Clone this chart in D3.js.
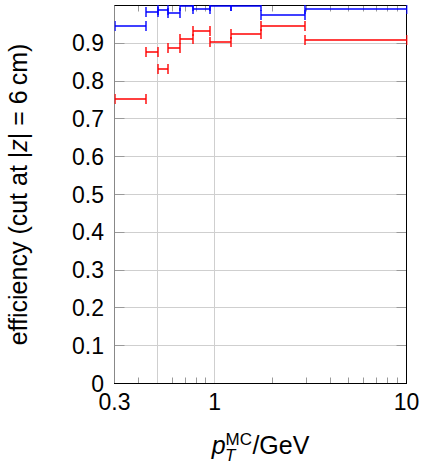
<!DOCTYPE html>
<html>
<head>
<meta charset="utf-8">
<script src="https://cdn.jsdelivr.net/npm/d3@7"></script>
<style>
  body { margin: 0; background: #fff; }
  text { font-family: "Liberation Sans", Arial, sans-serif; fill: #000; }
</style>
</head>
<body>
<svg id="chart" width="421" height="464"></svg>
<script>
// efficiency vs pT, two series drawn as horizontal bin errorbars

var binEdges = [0.3, 0.44, 0.503, 0.57, 0.655, 0.77, 0.94, 1.21, 1.75, 2.96, 10];
var blueEff = [0.946, 0.983, 0.988, 0.981, 1.0, 0.99, 1.0, 1.0, 0.974, 0.99];
var redEff = [0.752, 0.876, 0.832, 0.887, 0.911, 0.933, 0.904, 0.925, 0.947, 0.910];

var yTicks = [0, 0.1, 0.2, 0.3, 0.4, 0.5, 0.6, 0.7, 0.8, 0.9, 1];
var yTickLabels = ['0', '0.1', '0.2', '0.3', '0.4', '0.5', '0.6', '0.7', '0.8', '0.9', ''];
var xTicks = [0.3, 1, 10];
var xTickLabels = ['0.3', '1', '10'];
var xGrid = [0.5, 1];
var xMinor = [0.4, 0.6, 0.7, 0.8, 0.9, 2, 3, 4, 5, 6, 7, 8, 9];

var svg = d3.select('#chart');

// plot box (window.top is reserved, so prefixed names)
var pLeft = 114.5, pRight = 406.5, pTop = 5.5, pBottom = 383.5;

var x = d3.scaleLog()
  .domain([0.3, 10])
  .range([pLeft, pRight]);

var y = d3.scaleLinear()
  .domain([0, 1])
  .range([pBottom, pTop]);

function px(v){ return Math.round(v - 0.5) + 0.5; } // snap to pixel centre

// grid
svg.append('g')
  .selectAll('line')
  .data(yTicks.slice(1, -1))
  .enter().append('line')
  .attr('x1', pLeft).attr('x2', pRight)
  .attr('y1', d => px(y(d))).attr('y2', d => px(y(d)))
  .attr('stroke', '#cfcfcf');

svg.append('g')
  .selectAll('line')
  .data(xGrid)
  .enter().append('line')
  .attr('x1', d => px(x(d))).attr('x2', d => px(x(d)))
  .attr('y1', pTop).attr('y2', pBottom)
  .attr('stroke', '#cfcfcf');

// y ticks, inside on both sides
var yt = svg.append('g');
yTicks.forEach(function(d){
  var yy = px(y(d));
  yt.append('line').attr('x1', pLeft).attr('x2', pLeft + 10).attr('y1', yy).attr('y2', yy).attr('stroke', '#9a9a9a');
  yt.append('line').attr('x1', pRight - 10).attr('x2', pRight).attr('y1', yy).attr('y2', yy).attr('stroke', '#9a9a9a');
});

// x minor ticks, bottom and top
var xt = svg.append('g');
xMinor.forEach(function(d){
  var xx = px(x(d));
  xt.append('line').attr('x1', xx).attr('x2', xx).attr('y1', pBottom).attr('y2', pBottom - 6).attr('stroke', '#9a9a9a');
  xt.append('line').attr('x1', xx).attr('x2', xx).attr('y1', pTop).attr('y2', pTop + 6).attr('stroke', '#9a9a9a');
});

// frame
svg.append('line').attr('x1', pLeft).attr('x2', pLeft).attr('y1', pTop).attr('y2', pBottom).attr('stroke', '#888');
svg.append('line').attr('x1', pRight).attr('x2', pRight).attr('y1', pTop).attr('y2', pBottom).attr('stroke', '#000');
svg.append('line').attr('x1', pLeft).attr('x2', pRight).attr('y1', pTop).attr('y2', pTop).attr('stroke', '#000');
svg.append('line').attr('x1', pLeft - 0.5).attr('x2', pRight + 0.5).attr('y1', pBottom).attr('y2', pBottom).attr('stroke', '#000');

// tick labels
svg.append('g')
  .selectAll('text')
  .data(yTicks)
  .enter().append('text')
  .attr('x', 104)
  .attr('y', d => y(d) + 8)
  .attr('text-anchor', 'end')
  .style('font-size', '23px')
  .text((d, i) => yTickLabels[i]);

svg.append('g')
  .selectAll('text')
  .data(xTicks)
  .enter().append('text')
  .attr('x', d => x(d))
  .attr('y', 410)
  .attr('text-anchor', 'middle')
  .style('font-size', '23px')
  .text((d, i) => xTickLabels[i]);

// axis titles
var xt2 = svg.append('text')
  .attr('x', (pLeft + pRight) / 2)
  .attr('y', 454)
  .attr('text-anchor', 'middle')
  .style('font-size', '25px');
xt2.append('tspan').style('font-style', 'italic').text('p');
xt2.append('tspan').attr('dy', -9).style('font-size', '17px').text('MC');
xt2.append('tspan').attr('dx', -27).attr('dy', 16).style('font-size', '17px').style('font-style', 'italic').text('T');
xt2.append('tspan').attr('dx', 17).attr('dy', -7).text('/GeV');

var yt2 = svg.append('text')
  .attr('transform', 'translate(27,' + ((pTop + pBottom) / 2) + ') rotate(-90)')
  .attr('text-anchor', 'middle')
  .style('font-size', '25px');
yt2.append('tspan').text('efficiency (cut at |');
yt2.append('tspan').style('font-style', 'italic').text('z');
yt2.append('tspan').text('| = 6\u2009cm)');

// clip for marks
svg.append('clipPath').attr('id', 'plot')
  .append('rect').attr('x', pLeft).attr('y', pTop - 0.5).attr('width', pRight - pLeft + 1).attr('height', pBottom - pTop);

function drawSeries(vals, color){
  var g = svg.append('g').attr('clip-path', 'url(#plot)')
    .attr('stroke', color).attr('stroke-width', 1.4).attr('fill', 'none');
  vals.forEach(function(v, i){
    var x0 = Math.round(x(binEdges[i])), x1 = Math.round(x(binEdges[i + 1])), yy = Math.round(y(v));
    g.append('line').attr('x1', x0).attr('x2', x1).attr('y1', yy).attr('y2', yy);
    g.append('line').attr('x1', x0).attr('x2', x0).attr('y1', yy - 5).attr('y2', yy + 5);
    g.append('line').attr('x1', x1).attr('x2', x1).attr('y1', yy - 5).attr('y2', yy + 5);
  });
}

drawSeries(redEff, '#ff0000');
drawSeries(blueEff, '#0000ff');
</script>
</body>
</html>
